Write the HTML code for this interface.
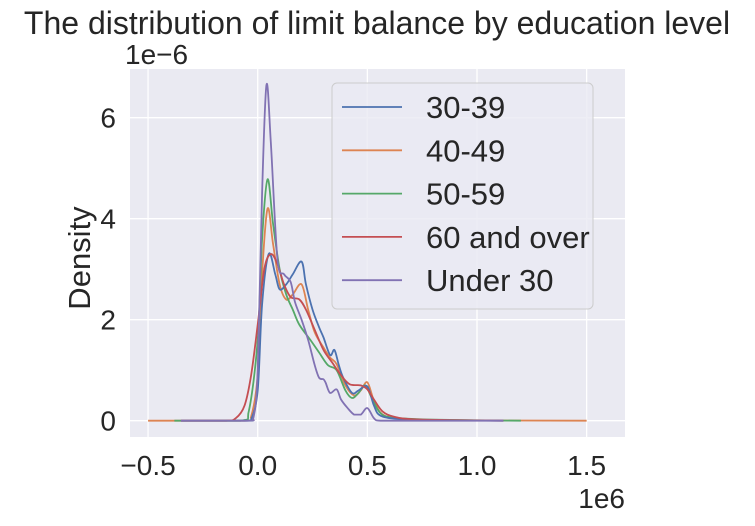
<!DOCTYPE html>
<html><head><meta charset="utf-8"><style>
html,body{margin:0;padding:0;background:#fff;}
svg text{font-family:"Liberation Sans",Arial,sans-serif;fill:#262626;}
</style></head><body>
<svg id="chart" width="755" height="521" viewBox="0 0 755 521" xmlns="http://www.w3.org/2000/svg">
<rect x="130" y="69" width="495" height="368" fill="#eaeaf2"/>
<g id="grid"></g>
<g id="series"></g>
<g id="ticks"></g>
<text x="377" y="34" font-size="32" text-anchor="middle">The distribution of limit balance by education level</text>
<text x="0" y="0" font-size="31" text-anchor="middle" transform="translate(90,258) rotate(-90)">Density</text>
<text x="125" y="64" font-size="28">1e−6</text>
<text x="625" y="508" font-size="28" text-anchor="end">1e6</text>
<g id="legend">
<rect x="332" y="83" width="261" height="226" rx="5" fill="#eaeaf2" fill-opacity="0.8" stroke="#cccccc"/>
</g>
</svg>
<script>
const xTicks=[-0.5,0.0,0.5,1.0,1.5];
const xTickLabels=["−0.5","0.0","0.5","1.0","1.5"];
const yTicks=[0,2,4,6];
const yTickLabels=["0","2","4","6"];
const seriesNames=["30-39","40-49","50-59","60 and over","Under 30"];
const seriesColors=["#4c72b0","#dd8452","#55a868","#c44e52","#8172b3"];
const x3039=[-0.35,-0.05,-0.03,0.0,0.02,0.05,0.08,0.1,0.13,0.16,0.2,0.22,0.25,0.28,0.3,0.33,0.35,0.37,0.39,0.43,0.46,0.5,0.53,0.56,0.65,0.8,1.12];
const y3039=[0,0,0.02,0.6,2.3,3.3,2.9,2.6,2.7,2.9,3.15,2.7,2.2,1.85,1.65,1.3,1.4,1.1,0.85,0.55,0.6,0.68,0.3,0.1,0.03,0.01,0];
const x4049=[-0.5,-0.06,-0.03,0.0,0.02,0.045,0.07,0.1,0.13,0.16,0.2,0.23,0.26,0.3,0.33,0.36,0.4,0.44,0.47,0.5,0.53,0.57,0.65,0.8,1.5];
const y4049=[0,0,0.08,0.9,2.9,4.2,3.5,2.7,2.4,2.5,2.7,2.2,1.75,1.45,1.25,1.12,0.7,0.5,0.6,0.76,0.4,0.12,0.04,0.01,0];
const x5059=[-0.38,-0.08,-0.04,0.0,0.02,0.045,0.07,0.1,0.13,0.16,0.19,0.24,0.28,0.32,0.36,0.4,0.43,0.46,0.49,0.52,0.56,0.62,0.8,1.2];
const y5059=[0,0,0.2,1.6,3.6,4.78,3.9,3.0,2.5,2.2,1.9,1.6,1.35,1.1,1.0,0.6,0.45,0.55,0.7,0.45,0.15,0.06,0.02,0];
const x60=[-0.35,-0.15,-0.1,-0.06,-0.03,0.0,0.03,0.06,0.09,0.12,0.15,0.19,0.22,0.26,0.3,0.34,0.38,0.42,0.47,0.5,0.53,0.57,0.62,0.7,0.9,1.12];
const y60=[0,0,0.05,0.3,0.9,1.9,3.0,3.3,3.1,2.7,2.45,2.4,2.2,1.8,1.4,1.15,0.9,0.72,0.7,0.62,0.42,0.18,0.08,0.03,0.01,0];
const xU30=[-0.35,-0.05,-0.02,0.0,0.02,0.04,0.06,0.09,0.12,0.15,0.17,0.2,0.23,0.26,0.28,0.3,0.31,0.33,0.36,0.38,0.41,0.44,0.47,0.5,0.53,0.56,0.7,1.12];
const yU30=[0,0,0.05,1.0,4.5,6.65,5.5,3.2,2.9,2.75,2.35,2.0,1.6,1.1,0.85,0.82,0.75,0.55,0.62,0.42,0.25,0.12,0.12,0.25,0.05,0.0,0,0];
const seriesX=[x3039,x4049,x5059,x60,xU30];
const seriesY=[y3039,y4049,y5059,y60,yU30];
const NS="http://www.w3.org/2000/svg";
function sx(v){return 257.7+v*219.3;}
function sy(v){return 420.7-v*50.5;}
function mk(t,a,p){const e=document.createElementNS(NS,t);for(const k in a)e.setAttribute(k,a[k]);p.appendChild(e);return e;}
const grid=document.getElementById('grid'),ticks=document.getElementById('ticks');
xTicks.forEach((v,i)=>{
  const l=mk('line',{x1:sx(v),x2:sx(v),y1:69,y2:437,stroke:'#fff','stroke-width':1.3},grid);
  
  
  const t=mk('text',{x:sx(v),y:475,'font-size':28,'text-anchor':'middle'},ticks);
  t.textContent=xTickLabels[i];
  
  
});
yTicks.forEach((v,i)=>{
  const l=mk('line',{x1:130,x2:625,y1:sy(v),y2:sy(v),stroke:'#fff','stroke-width':1.3},grid);
  
  
  const t=mk('text',{x:116,y:sy(v)+10,'font-size':28,'text-anchor':'end'},ticks);
  t.textContent=yTickLabels[i];
  
  
});
function smooth(pts){
  let d='M'+pts[0][0]+','+pts[0][1];
  for(let i=0;i<pts.length-1;i++){
    const p0=pts[i-1]||pts[i],p1=pts[i],p2=pts[i+1],p3=pts[i+2]||p2;
    let c1y=p1[1]+(p2[1]-p0[1])/6,c2y=p2[1]-(p3[1]-p1[1])/6;
    const lo=Math.min(p1[1],p2[1]),hi=Math.max(p1[1],p2[1]);
    if(p1[1]===p2[1]){c1y=p1[1];c2y=p2[1];}
    c1y=Math.min(Math.max(c1y,lo-8),hi+8);c2y=Math.min(Math.max(c2y,lo-8),hi+8);
    c1y=Math.min(c1y,420.7);c2y=Math.min(c2y,420.7);
    d+=' C'+(p1[0]+(p2[0]-p0[0])/6)+','+c1y+' '+(p2[0]-(p3[0]-p1[0])/6)+','+c2y+' '+p2[0]+','+p2[1];
  }
  return d;
}
const sg=document.getElementById('series');
const order=[1,2,0,3,4];
order.forEach(i=>{
  const pts=seriesX[i].map((x,j)=>[sx(x),sy(seriesY[i][j])]);
  const p=mk('path',{d:smooth(pts),fill:'none',stroke:seriesColors[i],'stroke-width':1.8},sg);
  
  
});
const lg=document.getElementById('legend');
seriesNames.forEach((n,i)=>{
  const y=107+i*43.3;
  const l=mk('line',{x1:342,x2:402,y1:y,y2:y,stroke:seriesColors[i],'stroke-width':1.8},lg);
  
  
  const t=mk('text',{x:426,y:y+11,'font-size':31},lg);
  t.textContent=n;
  
  
});
</script>
</body></html>
